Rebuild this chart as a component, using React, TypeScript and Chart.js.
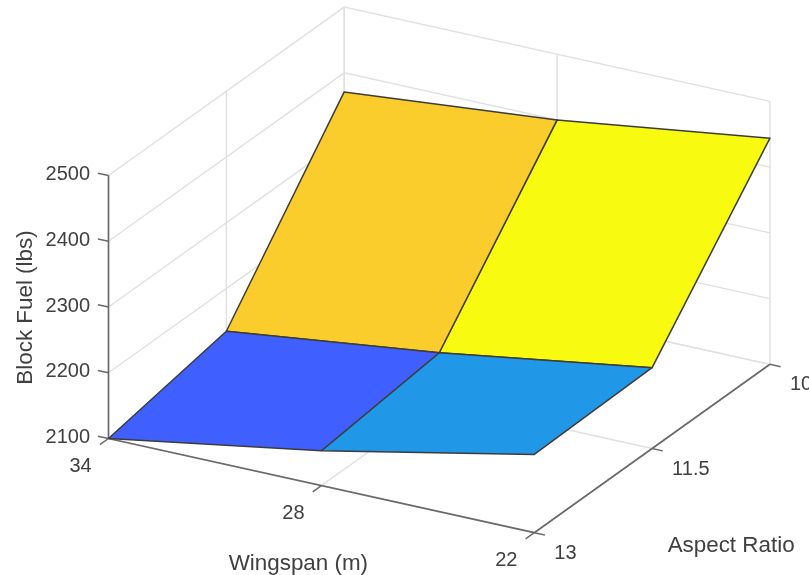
import React, { useEffect, useRef } from "react";
import { Chart, registerables } from "chart.js";

Chart.register(...registerables);

const wingspans = [34, 28, 22];
const aspectRatios = [13, 11.5, 10];
const fuelTicks = [2100, 2200, 2300, 2400, 2500];
const fuelAtAR13 = [2100, 2153, 2219];
const fuelAtAR115 = [2135, 2174, 2223];
const fuelAtAR10 = [2371, 2400, 2444];
const fuelGrid = [fuelAtAR13, fuelAtAR115, fuelAtAR10];
const quadColors = [
  ["#3F60FF", "#2197E8"],
  ["#FBCD2C", "#F8FA10"],
];
const xTitle = "Wingspan (m)";
const yTitle = "Aspect Ratio";
const zTitle = "Block Fuel (lbs)";

// Orthographic view of the 3-D box, onto a flat pair of hidden linear scales.
const origin = { x: 108.5, y: 438.5 };
const perW = { x: -35.48, y: -7.85 }; // per unit of wingspan
const perAR = { x: -78.57, y: 56.13 }; // per unit of aspect ratio
const perZ = -0.6575; // per lb
const project = (w: number, ar: number, z: number) => ({
  x: origin.x + (w - 34) * perW.x + (ar - 13) * perAR.x,
  y: origin.y + (w - 34) * perW.y + (ar - 13) * perAR.y + (z - 2100) * perZ,
});

const W0 = wingspans[0];
const W1 = wingspans[wingspans.length - 1];
const A0 = aspectRatios[0];
const A1 = aspectRatios[aspectRatios.length - 1];
const Z0 = fuelTicks[0];
const Z1 = fuelTicks[fuelTicks.length - 1];

const line = (pts: { x: number; y: number }[], color: string, width: number, order: number) => ({
  type: "scatter" as const,
  data: pts,
  showLine: true,
  borderColor: color,
  borderWidth: width,
  pointRadius: 0,
  tension: 0,
  fill: false,
  order,
  borderCapStyle: "butt" as const,
});

function buildDatasets() {
  const sets: any[] = [];
  const GRID = "#E0E0E0";
  const AXIS = "#6A6A6A";
  // walls: fuel gridlines
  for (const z of fuelTicks) {
    sets.push(line([project(W0, A0, z), project(W0, A1, z), project(W1, A1, z)], GRID, 1.4, 5));
  }
  // walls: vertical gridlines
  for (const w of wingspans) {
    sets.push(line([project(w, A1, Z0), project(w, A1, Z1)], GRID, 1.4, 5));
  }
  for (const a of aspectRatios.slice(1)) {
    sets.push(line([project(W0, a, Z0), project(W0, a, Z1)], GRID, 1.4, 5));
  }
  // floor gridlines
  for (const w of wingspans) {
    sets.push(line([project(w, A0, Z0), project(w, A1, Z0)], GRID, 1.4, 5));
  }
  for (const a of aspectRatios) {
    sets.push(line([project(W0, a, Z0), project(W1, a, Z0)], GRID, 1.4, 5));
  }
  // axes
  sets.push(line([project(W0, A0, Z0), project(W0, A0, Z1)], AXIS, 1.7, 4));
  sets.push(line([project(W0, A0, Z0), project(W1, A0, Z0)], AXIS, 1.7, 4));
  sets.push(line([project(W1, A0, Z0), project(W1, A1, Z0)], AXIS, 1.7, 4));
  for (const z of fuelTicks) {
    sets.push(line([project(W0, A0, z), project(W0 + 0.3, A0, z)], AXIS, 1.5, 4));
  }
  for (const w of wingspans) {
    sets.push(line([project(w, A0, Z0), project(w, A0 + 0.11, Z0)], AXIS, 1.5, 4));
  }
  for (const a of aspectRatios) {
    sets.push(line([project(W1, a, Z0), project(W1 - 0.3, a, Z0)], AXIS, 1.5, 4));
  }
  // surface patches
  for (let i = 0; i < aspectRatios.length - 1; i++) {
    for (let j = 0; j < wingspans.length - 1; j++) {
      const p = [
        project(wingspans[j], aspectRatios[i], fuelGrid[i][j]),
        project(wingspans[j + 1], aspectRatios[i], fuelGrid[i][j + 1]),
        project(wingspans[j + 1], aspectRatios[i + 1], fuelGrid[i + 1][j + 1]),
        project(wingspans[j], aspectRatios[i + 1], fuelGrid[i + 1][j]),
      ];
      sets.push({
        ...line([...p, p[0]], "#3C3C3C", 1.5, 1),
        backgroundColor: quadColors[i][j],
        fill: "shape",
        borderJoinStyle: "round",
      });
    }
  }
  return sets;
}

const textPlugin = {
  id: "axisText",
  afterDatasetsDraw(chart: any) {
    const { ctx, scales } = chart;
    const sx = (v: number) => scales.x.getPixelForValue(v);
    const sy = (v: number) => scales.y.getPixelForValue(v);
    const TEXT = "#404040";
    const put = (s: string, x: number, y: number, align: CanvasTextAlign, size: number, rot = 0) => {
      ctx.save();
      ctx.translate(x, y);
      ctx.rotate(rot);
      ctx.font = `${size}px "Liberation Sans", Arial, sans-serif`;
      ctx.fillStyle = TEXT;
      ctx.textAlign = align;
      ctx.textBaseline = "middle";
      ctx.fillText(s, 0, 0);
      ctx.restore();
    };
    for (const z of fuelTicks) {
      const p = project(W0, A0, z);
      put(String(z), sx(p.x - 18.5), sy(p.y - 1), "right", 20);
    }
    for (const w of wingspans) {
      const p = project(w, A0, Z0);
      put(String(w), sx(p.x - 28), sy(p.y + 28), "center", 20);
    }
    for (const a of aspectRatios) {
      const p = project(W1, a, Z0);
      put(String(a), sx(p.x + 20), sy(p.y + 20.5), "left", 20);
    }
    const ax = project((W0 + W1) / 2, A0, Z0);
    put(xTitle, sx(ax.x - 23), sy(ax.y + 78), "center", 22.4);
    const ay = project(W1, (A0 + A1) / 2, Z0);
    put(yTitle, sx(ay.x + 79), sy(ay.y + 97.5), "center", 22.4);
    const az = project(W0, A0, (Z0 + Z1) / 2);
    put(zTitle, sx(az.x - 82.5), sy(az.y + 0.5), "center", 22.4, -Math.PI / 2);
  },
};

export default function App() {
  const ref = useRef<HTMLCanvasElement>(null);
  useEffect(() => {
    const chart = new Chart(ref.current as HTMLCanvasElement, {
      type: "scatter",
      data: { datasets: buildDatasets() },
      options: {
        animation: false,
        responsive: false,
        events: [],
        layout: { padding: 0 },
        plugins: { legend: { display: false }, tooltip: { enabled: false } },
        scales: {
          x: { type: "linear", min: 0, max: 809, display: false },
          y: { type: "linear", min: 0, max: 575, reverse: true, display: false },
        },
      },
      plugins: [textPlugin],
    } as any);
    return () => chart.destroy();
  }, []);
  return (
    <div style={{ position: "absolute", left: 0, top: 0, width: 809, height: 575, background: "#fff", overflow: "hidden" }}>
      <canvas ref={ref} width={809} height={575} style={{ display: "block", filter: "blur(0.5px)" }} />
    </div>
  );
}
